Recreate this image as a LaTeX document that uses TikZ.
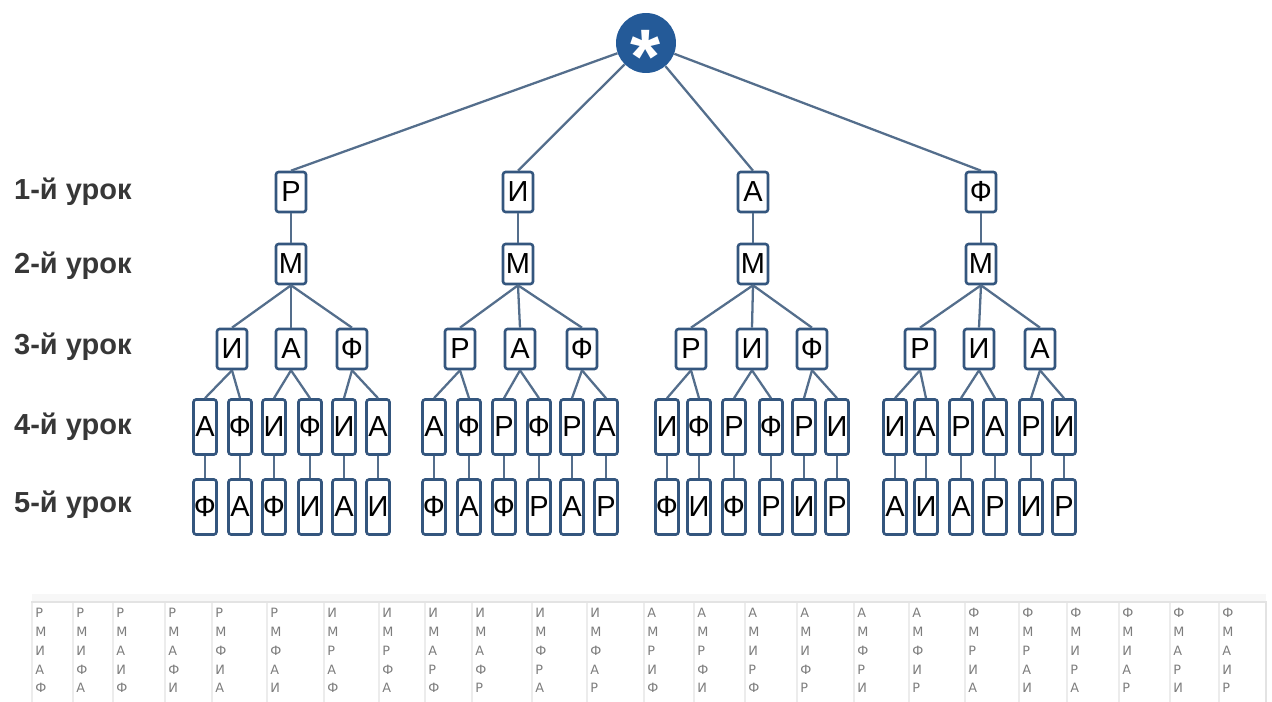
\documentclass[tikz,border=0pt]{standalone}
\usepackage{fontspec}
\setmainfont{Liberation Sans}
\newfontfamily\tablefont{DejaVu Sans}
\definecolor{boxblue}{RGB}{52,86,126}
\definecolor{edgeblue}{RGB}{84,110,140}
\definecolor{rootblue}{RGB}{36,90,152}
\definecolor{labelgray}{RGB}{55,55,55}
\definecolor{tablegray}{RGB}{125,125,125}

\begin{document}
\begin{tikzpicture}[x=0.02cm,y=-0.02cm]
\tikzset{
  lesson box/.style={draw=boxblue,line width=1.5pt,rounded corners=1.5pt,fill=white,inner sep=0pt,
    minimum width=0.6cm,minimum height=0.8cm,font=\fontsize{16.5}{16.5}\selectfont},
  leaf box/.style={lesson box,minimum width=0.46cm,minimum height=1.1cm},
  tree edge/.style={draw=edgeblue,line width=1.3pt},
  root node/.style={circle,fill=rootblue,inner sep=0pt,minimum size=1.2cm,text=white,
    font=\bfseries\fontsize{44}{44}\selectfont},
  lesson label/.style={anchor=west,text=labelgray,font=\bfseries\fontsize{16.5}{16.5}\selectfont},
  column text/.style={anchor=north west,inner sep=0pt,align=left,text=tablegray,
    font=\tablefont\fontsize{7.3}{10.7}\selectfont}
}
\useasboundingbox (0,0) rectangle (1272,702);
% Подписи уроков
\foreach \n/\y in {1/192,2/266,3/347,4/427,5/505}
  \node[lesson label] (lesson\n) at (8,\y) {\n-й урок};
% Рамка таблицы
\fill[gray!6] (32,594) rectangle (1266,602);
\draw[gray!22,line width=0.8pt] (32,702) -- (32,602) -- (1266,602) -- (1266,702);
% 4-й и 5-й уроки, столбцы таблицы
\foreach \x/\tx/\first/\third/\fourth/\fifth [count=\i] in {
  205/35/Р/И/А/Ф, 240/76/Р/И/Ф/А, 274/116/Р/А/И/Ф, 310/168/Р/А/Ф/И, 344/215/Р/Ф/И/А, 378/270/Р/Ф/А/И,
  434/327/И/Р/А/Ф, 469/382/И/Р/Ф/А, 504/428/И/А/Р/Ф, 539/475/И/А/Ф/Р, 572/535/И/Ф/Р/А, 606/590/И/Ф/А/Р,
  667/647/А/Р/И/Ф, 699/697/А/Р/Ф/И, 734/748/А/И/Р/Ф, 771/800/А/И/Ф/Р, 804/857/А/Ф/Р/И, 837/912/А/Ф/И/Р,
  895/968/Ф/Р/И/А, 926/1022/Ф/Р/А/И, 961/1070/Ф/И/Р/А, 995/1122/Ф/И/А/Р, 1031/1173/Ф/А/Р/И, 1064/1222/Ф/А/И/Р}{
  \node[leaf box] (d\i) at (\x,427) {\fourth};
  \node[leaf box] (e\i) at (\x,507) {\fifth};
  \draw[tree edge] (d\i) -- (e\i);
  \draw[gray!15,line width=0.6pt] (\tx-3,603) -- (\tx-3,702);
  \node[column text] (col\i) at (\tx,608) {\first\\М\\\third\\\fourth\\\fifth};
}
% 3-й урок
\foreach \x/\t [count=\i] in {232/И,291/А,352/Ф,460/Р,520/А,582/Ф,691/Р,752/И,812/Ф,920/Р,979/И,1040/А}{
  \node[lesson box] (c\i) at (\x,349) {\t};
  \pgfmathtruncatemacro\kl{2*\i-1}
  \pgfmathtruncatemacro\kr{2*\i}
  \draw[tree edge] (c\i.south) -- (d\kl.north);
  \draw[tree edge] (c\i.south) -- (d\kr.north);
}
% Корень, 1-й и 2-й уроки
\node[root node] (root) at (646,43) {\smash{\raisebox{-0.52em}{*}}};
\foreach \x/\t [count=\i] in {291/Р,518/И,753/А,981/Ф}{
  \node[lesson box] (a\i) at (\x,192) {\t};
  \node[lesson box] (m\i) at (\x,264) {М};
  \draw[tree edge] (root) -- (a\i.north);
  \draw[tree edge] (a\i) -- (m\i);
  \foreach \k in {2,1,0}{
    \pgfmathtruncatemacro\j{3*\i-\k}
    \draw[tree edge] (m\i.south) -- (c\j.north);
  }
}
\end{tikzpicture}
\end{document}
